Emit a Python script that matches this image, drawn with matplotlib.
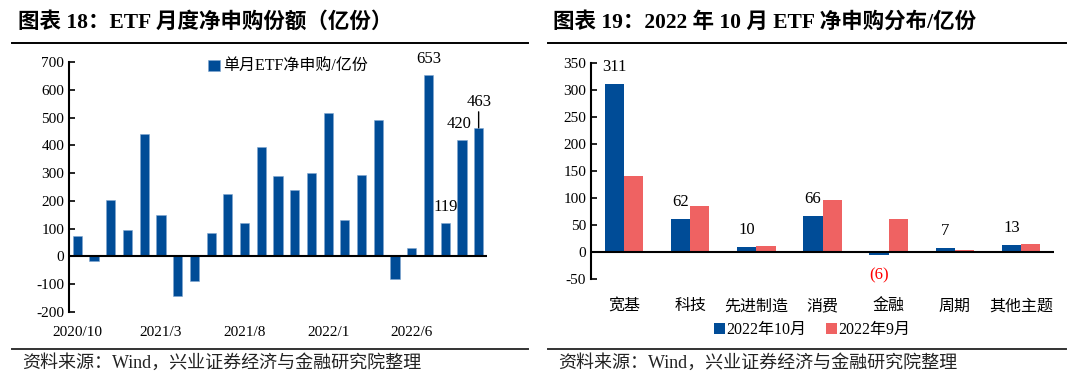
import matplotlib
matplotlib.use("Agg")
import matplotlib.pyplot as plt
from matplotlib.lines import Line2D
import numpy as np

# monthly ETF net subscription (100m shares), 2020/10 .. 2022/10
months = ["2020/10", "2020/11", "2020/12", "2021/1", "2021/2", "2021/3", "2021/4",
          "2021/5", "2021/6", "2021/7", "2021/8", "2021/9", "2021/10", "2021/11",
          "2021/12", "2022/1", "2022/2", "2022/3", "2022/4", "2022/5", "2022/6",
          "2022/7", "2022/8", "2022/9", "2022/10"]
net_sub = [72, -16, 202, 96, 442, 150, -141, -90, 85, 224, 121, 395, 289, 241,
           301, 518, 130, 295, 490, -80, 29, 653, 119, 420, 463]
tick_months = ["2020/10", "2021/3", "2021/8", "2022/1", "2022/6"]

# distribution by category
cats = ["宽基", "科技", "先进制造", "消费", "金融", "周期", "其他主题"]
oct_vals = [311, 62, 10, 66, -6, 7, 13]
sep_vals = [141, 85, 11, 97, 62, 3, 14]

BLUE = "#004C97"
RED = "#EF6262"
FONT = ["Liberation Serif", "Noto Sans CJK SC"]
plt.rcParams["font.family"] = FONT
plt.rcParams["axes.unicode_minus"] = False

W, H = 1080, 380
fig = plt.figure(figsize=(W / 100, H / 100), dpi=100)


def px_axes(x0, y0, x1, y1):
    # pixel box (top-left origin) -> figure axes
    return fig.add_axes([x0 / W, 1 - y1 / H, (x1 - x0) / W, (y1 - y0) / H])


def hline(x0, x1, y, lw=1.4, color="black"):
    fig.add_artist(Line2D([x0 / W, x1 / W], [1 - y / H, 1 - y / H], color=color, lw=lw))


def style_axes(ax):
    for s in ("top", "right", "bottom"):
        ax.spines[s].set_visible(False)
    ax.spines["left"].set_linewidth(1.5)
    ax.axhline(0, color="black", lw=1.5, zorder=3)
    ax.tick_params(axis="y", direction="in", length=4, width=1.2, labelsize=11)
    ax.tick_params(axis="x", length=0)


# ---- left: monthly bars ----
ax1 = px_axes(69, 62, 487, 312)
x = np.arange(len(months))
ax1.bar(x, net_sub, width=0.55, color=BLUE, edgecolor="#7fa6d0", linewidth=0.4,
        label="单月ETF净申购/亿份", zorder=2)
ax1.set_xlim(-0.5, len(months) - 0.5)
ax1.set_ylim(-200, 700)
ax1.set_yticks(range(-200, 701, 100))
ax1.set_xticks([months.index(m) for m in tick_months])
ax1.set_xticklabels(tick_months, fontsize=11)
ax1.tick_params(axis="x", pad=10)
style_axes(ax1)

for i, dx, dy in [(21, 0, 16), (22, 0, 16), (23, -3, 16)]:
    ax1.annotate(str(net_sub[i]), (x[i], net_sub[i]), xytext=(dx, dy),
                 textcoords="offset pixels", ha="center", va="center", fontsize=12)
# 463 with a short leader line
i = 24
ax1.annotate("", (x[i], net_sub[i]), xytext=(0, 16), textcoords="offset pixels",
             arrowprops=dict(arrowstyle="-", color="black", lw=1.0, shrinkA=0, shrinkB=0))
ax1.annotate(str(net_sub[i]), (x[i], net_sub[i]), xytext=(0, 26),
             textcoords="offset pixels", ha="center", va="center", fontsize=12)

ax1.legend(loc="center left", bbox_to_anchor=(194 / W, 1 - 67 / H), bbox_transform=fig.transFigure,
           frameon=False, fontsize=11.5, handlelength=0.7, handleheight=0.7, handletextpad=0.2)

# ---- right: grouped bars ----
ax2 = px_axes(591, 63, 1054, 279)
xc = np.arange(len(cats))
bw = 0.29
ax2.bar(xc - bw / 2, oct_vals, width=bw, color=BLUE, label="2022年10月", zorder=2)
ax2.bar(xc + bw / 2, sep_vals, width=bw, color=RED, label="2022年9月", zorder=2)
ax2.set_xlim(-0.5, len(cats) - 0.5)
ax2.set_ylim(-50, 350)
ax2.set_yticks(range(-50, 351, 50))
ax2.set_xticks(xc)
ax2.set_xticklabels(cats, fontsize=11.5)
ax2.tick_params(axis="x", pad=14)
style_axes(ax2)

for i, v in enumerate(oct_vals):
    if v >= 0:
        ax2.annotate(str(v), (xc[i] - bw / 2, v), xytext=(0, 17), textcoords="offset pixels",
                     ha="center", va="center", fontsize=12)
    else:
        ax2.annotate(f"({-v})", (xc[i] - bw / 2, v), xytext=(0, -20), textcoords="offset pixels",
                     ha="center", va="center", fontsize=12, color="#FF0000")

ax2.legend(loc="center", bbox_to_anchor=(812 / W, 1 - 330 / H), bbox_transform=fig.transFigure,
           ncol=2, frameon=False, fontsize=11.5, handlelength=0.7, handleheight=0.7,
           handletextpad=0.1, columnspacing=1.2)

# ---- titles, rules, sources ----
fig.text(18 / W, 1 - 22 / H, "图表 18：ETF 月度净申购份额（亿份）", fontsize=15.5,
         fontweight="bold", va="center", ha="left")
fig.text(553 / W, 1 - 22 / H, "图表 19：2022 年 10 月 ETF 净申购分布/亿份", fontsize=15.5,
         fontweight="bold", va="center", ha="left")
hline(12, 528, 43)
hline(548, 1066, 43)
hline(12, 528, 349, color="#333333")
hline(548, 1066, 349, color="#333333")
src = "资料来源：Wind，兴业证券经济与金融研究院整理"
fig.text(22 / W, 1 - 363 / H, src, fontsize=13, va="center", ha="left", color="#222222")
fig.text(558 / W, 1 - 363 / H, src, fontsize=13, va="center", ha="left", color="#222222")

fig.savefig("out.png", dpi=100)
